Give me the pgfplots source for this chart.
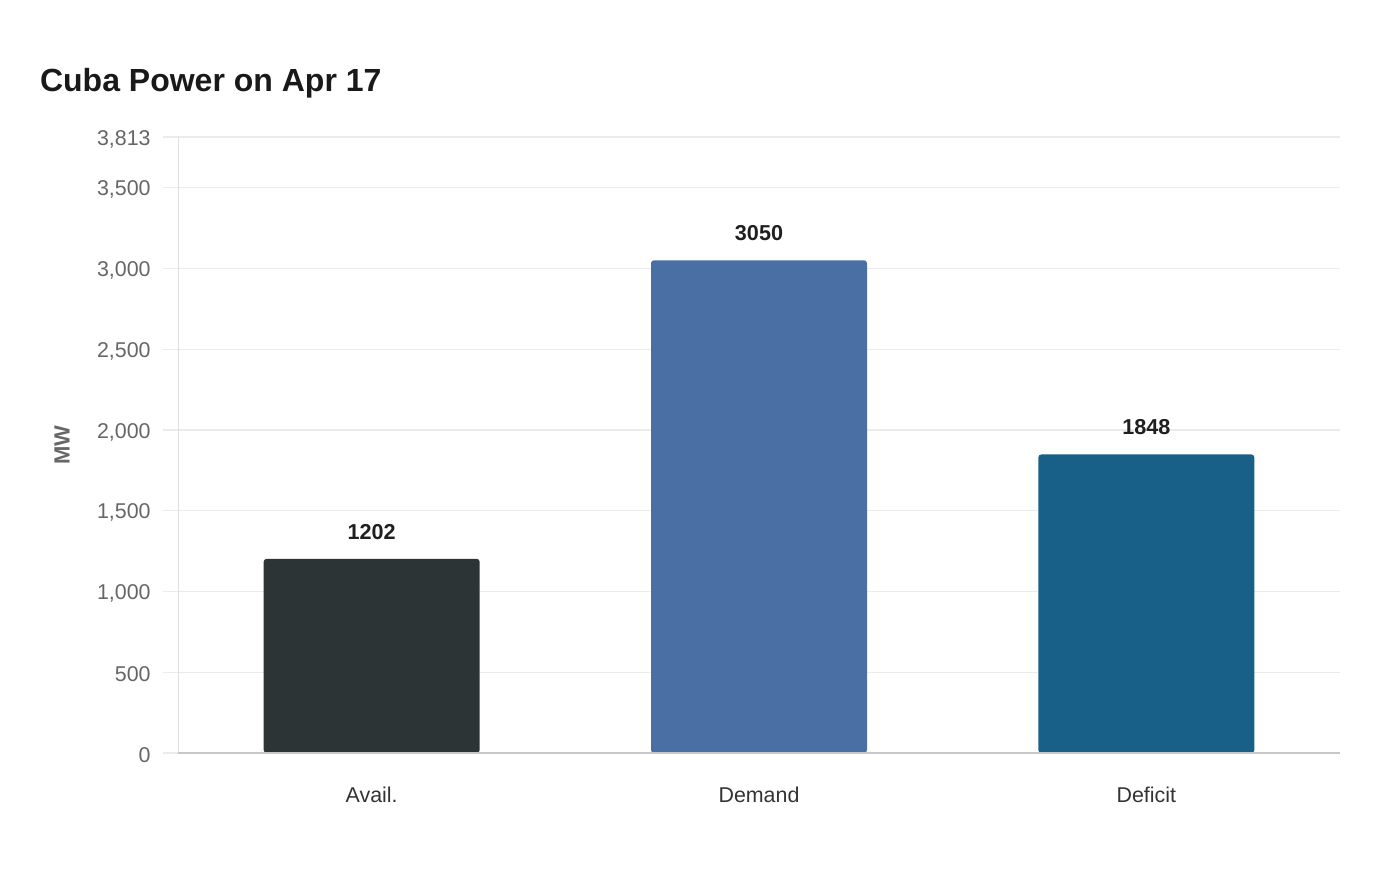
\documentclass[border=0pt]{standalone}
\usepackage{fontspec}
\setmainfont{Liberation Sans}
\usepackage{pgfplots}
\pgfplotsset{compat=1.18}

\definecolor{availc}{HTML}{2D3436}
\definecolor{demandc}{HTML}{4A6FA5}
\definecolor{deficitc}{HTML}{186088}
\definecolor{gridc}{HTML}{EBEBEB}
\definecolor{tickc}{HTML}{666666}
\definecolor{catc}{HTML}{333333}

\begin{document}
\begin{tikzpicture}
% page = 1400 x 880 px, 1 px = 0.5 pt
\useasboundingbox (0,0) rectangle (700pt,440pt);

\node[anchor=west, font=\fontsize{16}{19}\selectfont\bfseries, text=black!90] at (16.5pt,398.5pt) {Cuba Power on Apr 17};

\node[rotate=90, font=\fontsize{11}{13}\selectfont\bfseries, text=tickc] at (31pt,217.5pt) {MW};

\begin{axis}[
    at={(89pt,63.5pt)}, anchor=south west,
    scale only axis,
    width=581pt, height=308pt,
    xmin=-0.5, xmax=2.5,
    ymin=0, ymax=3813,
    xtick={0,1,2},
    xticklabels={Avail., Demand, Deficit},
    ytick={0,500,1000,1500,2000,2500,3000,3500,3813},
    ytick pos=left,
    /pgf/number format/assume math mode=true,
    /pgf/number format/1000 sep={,},
    /pgf/number format/fixed,
    scaled y ticks=false,
    ymajorgrids,
    grid style={gridc, line width=0.6pt},
    axis line style={draw=none},
    x tick style={draw=none},
    y tick style={gridc, line width=0.6pt},
    tick align=outside,
    major tick length=7.5pt,
    yticklabel style={font=\fontsize{10.7}{12}\selectfont, text=tickc, inner sep=0pt, xshift=-6pt, yshift=-1pt},
    xticklabel style={font=\fontsize{10.7}{12}\selectfont, text=catc, anchor=center, yshift=-13.5pt},
    ybar, bar width=108pt, bar shift=0pt,
    nodes near coords,
    nodes near coords style={font=\fontsize{10.8}{12}\selectfont\bfseries, text=black!88, anchor=center, yshift=13.5pt, /pgf/number format/1000 sep={}},
    clip=false,
]
\addplot[fill=availc, draw=none, rounded corners=1.5pt] coordinates {(0,1202)};
\addplot[fill=demandc, draw=none, rounded corners=1.5pt] coordinates {(1,3050)};
\addplot[fill=deficitc, draw=none, rounded corners=1.5pt] coordinates {(2,1848)};
\draw[black!12, line width=0.5pt] (rel axis cs:0,0) -- (rel axis cs:0,1);
\draw[black!22, line width=0.8pt] (rel axis cs:0,0) -- (rel axis cs:1,0);
\end{axis}
\end{tikzpicture}
\end{document}
